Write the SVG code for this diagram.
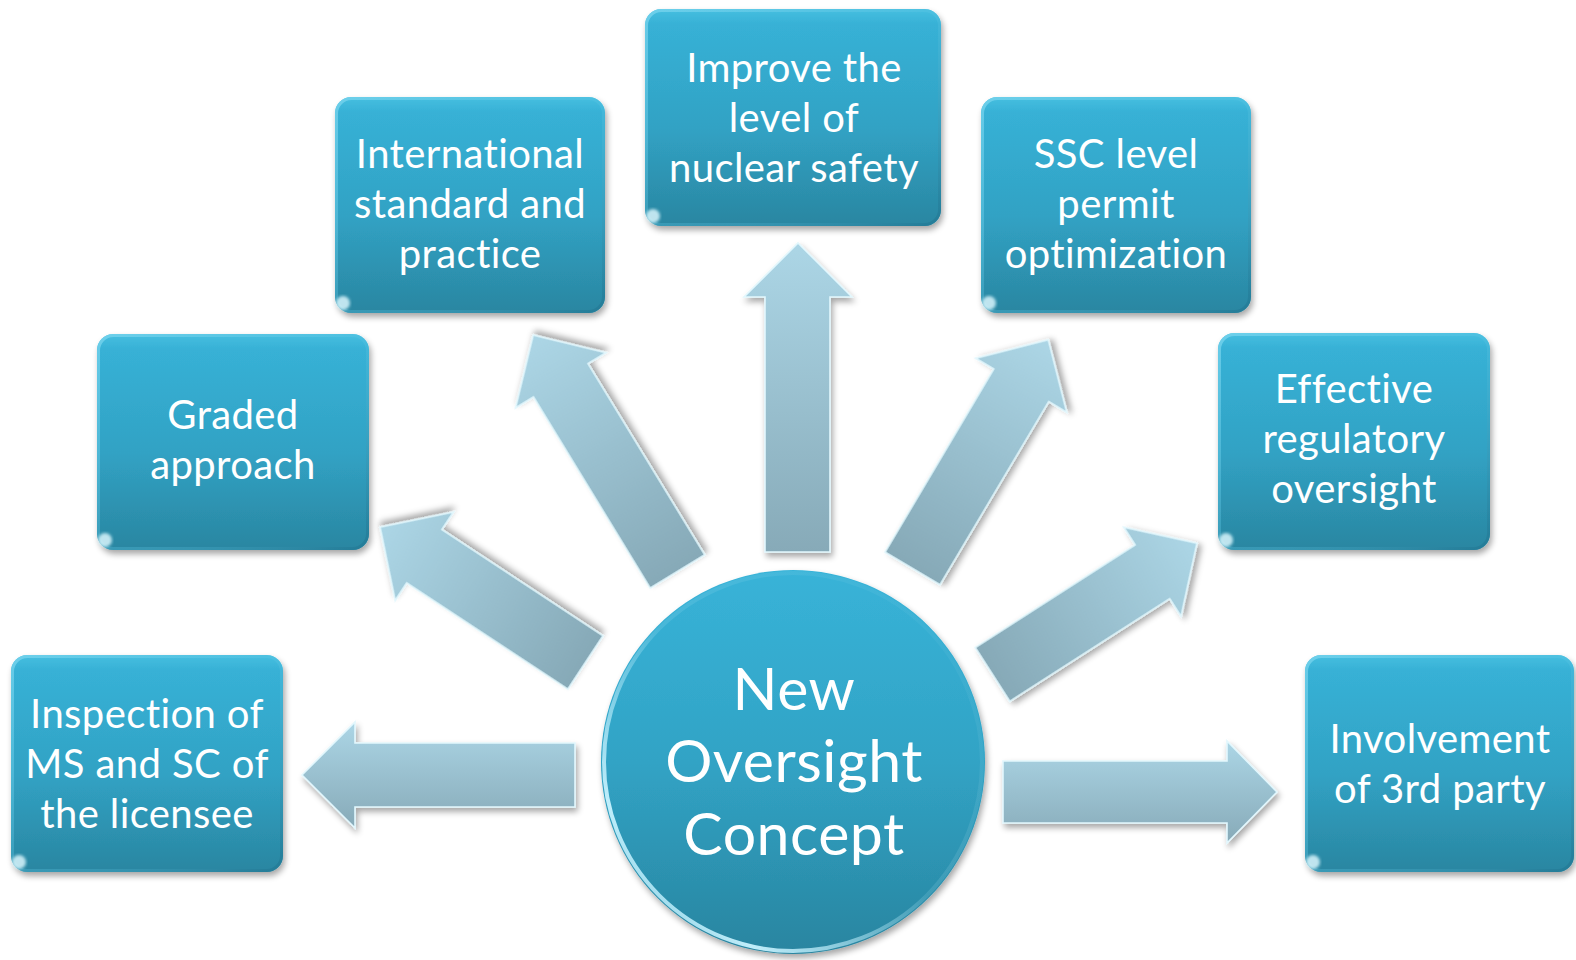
<svg xmlns="http://www.w3.org/2000/svg" width="1576" height="960" viewBox="0 0 1576 960">
<style>
.box{fill:url(#boxG);filter:url(#sh)}
.rim{fill:none;stroke:url(#rimG);stroke-width:3}
.dot{fill:#d9f5fc;opacity:.85;filter:url(#bl)}
.t{font-family:Lato,"Liberation Sans",sans-serif;font-size:40px;letter-spacing:0.4px;fill:#ffffff;text-anchor:middle}
.tc{font-family:Lato,"Liberation Sans",sans-serif;font-size:59px;letter-spacing:0.5px;fill:#ffffff;text-anchor:middle}
.arA{fill:url(#arV);stroke:#e2f7fd;stroke-width:1.6;stroke-linejoin:miter;filter:url(#sh)}
.arR{fill:url(#arX);stroke:#e2f7fd;stroke-width:1.6;stroke-linejoin:miter;filter:url(#sh)}
</style>
<defs>
<filter id="sh" x="-20%" y="-20%" width="140%" height="140%">
<feGaussianBlur in="SourceAlpha" stdDeviation="3"/>
<feOffset dx="2" dy="4" result="o"/>
<feComponentTransfer><feFuncA type="linear" slope="0.35"/></feComponentTransfer>
<feMerge><feMergeNode/><feMergeNode in="SourceGraphic"/></feMerge>
</filter>
<filter id="bl"><feGaussianBlur stdDeviation="1.5"/></filter>
<linearGradient id="boxG" x1="0" y1="0" x2="0" y2="1">
<stop offset="0" stop-color="#47bfe0"/>
<stop offset="0.07" stop-color="#37b1d6"/>
<stop offset="0.55" stop-color="#31a2c4"/>
<stop offset="1" stop-color="#2a86a1"/>
</linearGradient>
<linearGradient id="rimG" x1="0" y1="0" x2="1" y2="1">
<stop offset="0" stop-color="#7fd8f0" stop-opacity="0.7"/>
<stop offset="0.5" stop-color="#5cc6e4" stop-opacity="0.3"/>
<stop offset="1" stop-color="#1f7490" stop-opacity="0.6"/>
</linearGradient>
<linearGradient id="cG" x1="0" y1="0" x2="0" y2="1">
<stop offset="0" stop-color="#38b3d8"/>
<stop offset="0.5" stop-color="#31a3c5"/>
<stop offset="1" stop-color="#2985a0"/>
</linearGradient>
<linearGradient id="cRim" x1="1" y1="0" x2="0" y2="1">
<stop offset="0" stop-color="#ffffff" stop-opacity="0"/>
<stop offset="0.5" stop-color="#b8ecfa" stop-opacity="0.15"/>
<stop offset="0.8" stop-color="#c8f3ff" stop-opacity="0.95"/>
<stop offset="1" stop-color="#a9e6f7" stop-opacity="0.5"/>
</linearGradient>
<linearGradient id="arV" x1="0" y1="0" x2="0" y2="1">
<stop offset="0" stop-color="#acd6e6"/>
<stop offset="1" stop-color="#87aab8"/>
</linearGradient>
<linearGradient id="arX" x1="0" y1="0" x2="1" y2="0">
<stop offset="0" stop-color="#86a9b7"/>
<stop offset="1" stop-color="#acd6e6"/>
</linearGradient>
</defs>

<g id="connectors">
<path class="arA" d="M575,743 L355,743 L355,722 L302,775 L355,828 L355,807 L575,807 Z"/>
<path class="arA" d="M1003,761 L1227,761 L1227,741 L1277,792 L1227,843 L1227,823 L1003,823 Z"/>
<path class="arA" d="M765,552 L765,297 L744,297 L798,243 L852,297 L830,297 L830,552 Z"/>
<path class="arR" transform="translate(585.5,662.5) rotate(-146.6)" d="M0,-32 L193,-32 L193,-53 L246,0 L193,53 L193,32 L0,32 Z"/>
<path class="arR" transform="translate(992.5,674.5) rotate(-32.7)" d="M0,-32 L190,-32 L190,-53 L243,0 L190,53 L190,32 L0,32 Z"/>
<path class="arR" transform="translate(677.5,571.5) rotate(-121.4)" d="M0,-32 L224,-32 L224,-53 L277,0 L224,53 L224,32 L0,32 Z"/>
<path class="arR" transform="translate(912.5,568.5) rotate(-59.3)" d="M0,-32 L213,-32 L213,-53 L266,0 L213,53 L213,32 L0,32 Z"/>
</g>

<g id="center">
<circle cx="793" cy="762" r="192" fill="url(#cG)" filter="url(#sh)"/>
<circle cx="793" cy="762" r="189" fill="none" stroke="url(#cRim)" stroke-width="4"/>
<text class="tc" x="794" y="710">New</text>
<text class="tc" x="794" y="782">Oversight</text>
<text class="tc" x="794" y="855">Concept</text>
</g>

<g id="inspection">
<rect class="box" x="11" y="655" width="272" height="217" rx="16"/>
<rect class="rim" x="12.5" y="656.5" width="269" height="214" rx="15"/>
<ellipse class="dot" cx="19" cy="862" rx="7" ry="7"/>
<text class="t" x="147" y="728">Inspection of</text>
<text class="t" x="147" y="778">MS and SC of</text>
<text class="t" x="147" y="828">the licensee</text>
</g>

<g id="graded">
<rect class="box" x="97" y="334" width="272" height="216" rx="16"/>
<rect class="rim" x="98.5" y="335.5" width="269" height="213" rx="15"/>
<ellipse class="dot" cx="105" cy="540" rx="7" ry="7"/>
<text class="t" x="233" y="429">Graded</text>
<text class="t" x="233" y="479">approach</text>
</g>

<g id="international">
<rect class="box" x="335" y="97" width="270" height="216" rx="16"/>
<rect class="rim" x="336.5" y="98.5" width="267" height="213" rx="15"/>
<ellipse class="dot" cx="343" cy="303" rx="7" ry="7"/>
<text class="t" x="470" y="168">International</text>
<text class="t" x="470" y="218">standard and</text>
<text class="t" x="470" y="268">practice</text>
</g>

<g id="improve">
<rect class="box" x="645" y="9" width="296" height="217" rx="16"/>
<rect class="rim" x="646.5" y="10.5" width="293" height="214" rx="15"/>
<ellipse class="dot" cx="653" cy="216" rx="7" ry="7"/>
<text class="t" x="794" y="82">Improve the</text>
<text class="t" x="794" y="132">level of</text>
<text class="t" x="794" y="182">nuclear safety</text>
</g>

<g id="ssc">
<rect class="box" x="981" y="97" width="270" height="216" rx="16"/>
<rect class="rim" x="982.5" y="98.5" width="267" height="213" rx="15"/>
<ellipse class="dot" cx="989" cy="303" rx="7" ry="7"/>
<text class="t" x="1116" y="168">SSC level</text>
<text class="t" x="1116" y="218">permit</text>
<text class="t" x="1116" y="268">optimization</text>
</g>

<g id="effective">
<rect class="box" x="1218" y="333" width="272" height="217" rx="16"/>
<rect class="rim" x="1219.5" y="334.5" width="269" height="214" rx="15"/>
<ellipse class="dot" cx="1226" cy="540" rx="7" ry="7"/>
<text class="t" x="1354" y="403">Effective</text>
<text class="t" x="1354" y="453">regulatory</text>
<text class="t" x="1354" y="503">oversight</text>
</g>

<g id="involvement">
<rect class="box" x="1305" y="655" width="269" height="217" rx="16"/>
<rect class="rim" x="1306.5" y="656.5" width="266" height="214" rx="15"/>
<ellipse class="dot" cx="1313" cy="862" rx="7" ry="7"/>
<text class="t" x="1440" y="753">Involvement</text>
<text class="t" x="1440" y="803">of 3rd party</text>
</g>
</svg>
